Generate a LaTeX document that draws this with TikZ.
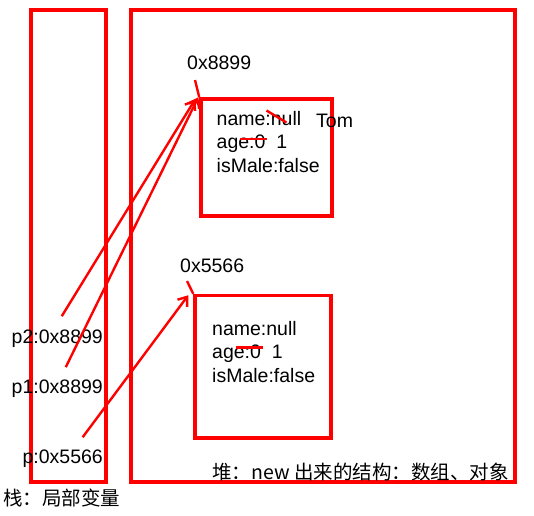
\documentclass[tikz,border=0pt]{standalone}
\usepackage{fontspec}
\setmainfont{Liberation Sans}
\newfontfamily\cjk{Noto Sans CJK SC}
\usetikzlibrary{positioning,arrows.meta}

\begin{document}
\begin{tikzpicture}[x=1pt, y=-1pt, font=\fontsize{19.5}{23}\selectfont,
  box/.style={rectangle, draw=red, line width=3.5pt, inner sep=0pt},
  ln/.style={anchor=base west, inner sep=0pt},
  lbl/.style={anchor=base east, inner sep=0pt},
  ref/.style={red, line width=2.4pt, -{Straight Barb[length=8pt, width=12pt]}},
  tick/.style={red, line width=2.4pt},
  strike/.style={red, line width=2.4pt}]
	\useasboundingbox (0,0) rectangle (534,515);
	\node[box, minimum width=75pt, minimum height=472pt] (stack) at (68.5,246) {};
	\node[box, minimum width=384pt, minimum height=472pt] (heap) at (323,246) {};
	\node[box, minimum width=131pt, minimum height=117pt] (obj1) at (266.5,157.5) {};
	\node[box, minimum width=136pt, minimum height=142.5pt] (obj2) at (263,366.75) {};

	% addresses
	\node[ln] (addr1) at (187,69) {0x8899};
	\node[ln] (addr2) at (180,272) {0x5566};
	\coordinate (tick1) at (195,80);
	\coordinate (tick2) at (187,281);
	\draw[tick] (tick1) -- (obj1.north west);
	\draw[tick] (tick2) -- (obj2.north west);

	% first object
	\node[ln] (name1) at (216.5,125) {name:null};
	\node[ln] (tom) at (316,127) {Tom};
	\node[ln] (age1) at (216.5,148.5) {age:0\ \ 1};
	\node[ln] (male1) at (216.5,172) {isMale:false};
	\draw[strike] (266.5,110.5) -- (286.5,122.5);
	\draw[strike] (240,139) -- (266.5,139);

	% second object
	\node[ln] (name2) at (212,335) {name:null};
	\node[ln] (age2) at (212,358.5) {age:0\ \ 1};
	\node[ln] (male2) at (212,382) {isMale:false};
	\draw[strike] (236,347.5) -- (263,347.5);

	% stack variables
	\node[lbl] (p2) at (103,343) {p2:0x8899};
	\node[lbl] (p1) at (103,393) {p1:0x8899};
	\node[lbl] (p) at (103,463) {p:0x5566};

	\draw[ref] ([shift={(4.5,-13)}]p2.north) -- ([shift={(-4,2)}]obj1.north west);
	\draw[ref] ([shift={(8.5,-12)}]p1.north) -- ([shift={(-1,0)}]obj1.north west);
	\draw[ref] ([shift={(20,-12)}]p.north) -- ([shift={(-5,1.5)}]obj2.north west);

	\node[anchor=west, inner sep=0pt, font=\cjk\fontsize{19.5}{23}\selectfont] (heaplabel) at (212,472) {堆：new 出来的结构：数组、对象};
	\node[anchor=west, inner sep=0pt, font=\cjk\fontsize{19.5}{23}\selectfont] (stacklabel) at (3,498) {栈：局部变量};
\end{tikzpicture}
\end{document}
